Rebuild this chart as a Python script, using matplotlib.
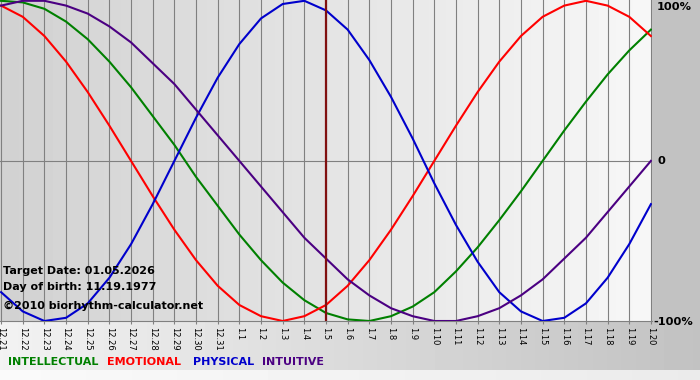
import numpy as np
import matplotlib
matplotlib.use('Agg')
import matplotlib.pyplot as plt

# dias do gráfico (mês.dia)
days = ['12.21', '12.22', '12.23', '12.24', '12.25', '12.26', '12.27', '12.28',
        '12.29', '12.30', '12.31', '1.1', '1.2', '1.3', '1.4', '1.5', '1.6',
        '1.7', '1.8', '1.9', '1.10', '1.11', '1.12', '1.13', '1.14', '1.15',
        '1.16', '1.17', '1.18', '1.19', '1.20']
target_day = '1.5'

intellectual = [1.00, 0.99, 0.95, 0.87, 0.76, 0.62, 0.46, 0.28, 0.10, -0.10,
                -0.28, -0.46, -0.62, -0.76, -0.87, -0.95, -0.99, -1.00, -0.97,
                -0.91, -0.82, -0.69, -0.54, -0.37, -0.19, 0.00, 0.19, 0.37,
                0.54, 0.69, 0.82]
emotional = [0.97, 0.90, 0.78, 0.62, 0.43, 0.22, 0.00, -0.22, -0.43, -0.62,
             -0.78, -0.90, -0.97, -1.00, -0.97, -0.90, -0.78, -0.62, -0.43,
             -0.22, 0.00, 0.22, 0.43, 0.62, 0.78, 0.90, 0.97, 1.00, 0.97,
             0.90, 0.78]
physical = [-0.82, -0.94, -1.00, -0.98, -0.89, -0.73, -0.52, -0.27, 0.00, 0.27,
            0.52, 0.73, 0.89, 0.98, 1.00, 0.94, 0.82, 0.63, 0.40, 0.14, -0.14,
            -0.40, -0.63, -0.82, -0.94, -1.00, -0.98, -0.89, -0.73, -0.52,
            -0.27]
intuitive = [0.97, 1.00, 1.00, 0.97, 0.92, 0.84, 0.74, 0.61, 0.48, 0.32, 0.16,
             0.00, -0.16, -0.32, -0.48, -0.61, -0.74, -0.84, -0.92, -0.97,
             -1.00, -1.00, -0.97, -0.92, -0.84, -0.74, -0.61, -0.48, -0.32,
             -0.16, 0.00]

info_lines = ['Target Date: 01.05.2026', 'Day of birth: 11.19.1977',
              '\u00a92010 biorhythm-calculator.net']
y_labels = ['100%', '0', '-100%']

series = [('INTELLECTUAL', intellectual, '#008000'),
          ('EMOTIONAL', emotional, '#ff0000'),
          ('PHYSICAL', physical, '#0000cc'),
          ('INTUITIVE', intuitive, '#4b0082')]

W, H = 700, 380
fig = plt.figure(figsize=(7, 3.8), dpi=100)

# fundo em gradiente (pixels)
bg = np.ones((H, W)) * 0.76
cols = np.linspace(0, 1, W)
bg[:321, :652] = 0.82 + 0.16 * cols[:652]
bg[321:370, :] = 0.95 - 0.19 * cols
bg[370:, :] = 0.98 - 0.06 * cols
ax_bg = fig.add_axes([0, 0, 1, 1])
ax_bg.imshow(bg, cmap='gray', vmin=0, vmax=1, aspect='auto',
             interpolation='nearest')
ax_bg.axis('off')

ax = fig.add_axes([0, 1 - 321 / H, 652 / W, 321 / H])
ax.set_facecolor('none')
x = np.arange(len(days))
ax.set_xlim(-0.05, len(days) - 1 + 0.05)
ax.set_ylim(-1.0, 1.005)

for xi in x:
    ax.axvline(xi, color='#808080', lw=0.8, zorder=1)
ax.axhline(0, color='#808080', lw=0.8, zorder=1)

for name, vals, c in series:
    ax.plot(x, vals, color=c, lw=1.5, zorder=3, solid_joinstyle='round')

ax.axvline(days.index(target_day), color='#801010', lw=1.6, zorder=4)

for s in ['top', 'right', 'left']:
    ax.spines[s].set_visible(False)
ax.spines['bottom'].set_color('#808080')
ax.spines['bottom'].set_linewidth(0.8)
ax.set_yticks([])
ax.set_xticks(x)
ax.set_xticklabels(days, rotation=-90, fontsize=6, va='top', ha='center')
ax.tick_params(axis='x', length=2.5, color='#808080', pad=1.5)

for txt, ypx in zip(y_labels, [7, 161, 322]):
    fig.text(657 / W if txt != '-100%' else 653 / W, 1 - ypx / H, txt,
             fontsize=8.2, fontweight='bold', va='center', ha='left')

for txt, ypx in zip(info_lines, [271, 287, 306]):
    fig.text(3 / W, 1 - ypx / H, txt, fontsize=8, fontweight='bold',
             va='center', ha='left', zorder=5)

for (name, vals, c), xpx in zip(series, [8, 107, 193, 262]):
    fig.text(xpx / W, 1 - 362 / H, name, color=c, fontsize=8,
             fontweight='bold', va='center', ha='left')

fig.savefig('out.png', dpi=100)
